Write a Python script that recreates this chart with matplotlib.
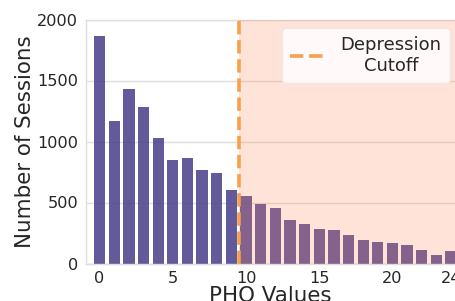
import matplotlib
matplotlib.use("Agg")
import matplotlib.pyplot as plt

# ─── Data ─────────────────────────────────────────────────────────────────────
pho_values = list(range(25))
session_counts = [1867, 1172, 1428, 1279, 1031, 849, 863, 770, 740, 605,
                  557, 490, 456, 357, 327, 284, 278, 234, 196, 178,
                  164, 153, 107, 72, 106]
depression_cutoff = 9.5
x_ticks = [0, 5, 10, 15, 20, 24]
y_ticks = [0, 500, 1000, 1500, 2000]

TEXT = "#262626"
GRID = "#dedede"
ORANGE = "#f7a04e"

fig = plt.figure(figsize=(4.55, 3.01), dpi=100, facecolor="white")
ax = fig.add_axes([86 / 455, 1 - 263.5 / 301, 1 - 86 / 455, 244 / 301])

ax.bar(pho_values, session_counts, width=0.77, color="darkslateblue",
       alpha=0.85, edgecolor="none", zorder=2)

# shaded region past the cutoff sits on top of the bars
ax.axvspan(depression_cutoff, 30, color="#ff7f50", alpha=0.22, lw=0, zorder=3)
ax.axvline(depression_cutoff, color=ORANGE, linestyle="--", linewidth=2.6,
           zorder=4, label="Depression\nCutoff")

ax.set_xlim(-0.93, 24.27)
ax.set_ylim(0, 2000)
ax.set_xticks(x_ticks)
ax.set_yticks(y_ticks)
ax.yaxis.grid(True, color=GRID, linewidth=1.0, zorder=0)
ax.set_axisbelow(True)

for side in ("left", "top", "bottom"):
    ax.spines[side].set_color(GRID)
    ax.spines[side].set_linewidth(1.0)
ax.spines["right"].set_visible(False)

ax.tick_params(length=0, labelsize=11.6, labelcolor=TEXT, pad=5.5)
ax.set_xlabel("PHO Values", fontsize=15.4, color=TEXT, labelpad=0)
ax.set_ylabel("Number of Sessions", fontsize=15.4, color=TEXT, labelpad=2)

leg = ax.legend(loc="upper left", bbox_to_anchor=(282 / 455, 1 - 28 / 301),
                bbox_transform=fig.transFigure, fontsize=13, frameon=True,
                fancybox=True, framealpha=0.85, facecolor="white",
                edgecolor="#f1e4e0", borderpad=0.45, borderaxespad=0)
for t in leg.get_texts():
    t.set_multialignment("center")
    t.set_color(TEXT)

plt.savefig("out.png", dpi=100, facecolor="white")
plt.close(fig)
